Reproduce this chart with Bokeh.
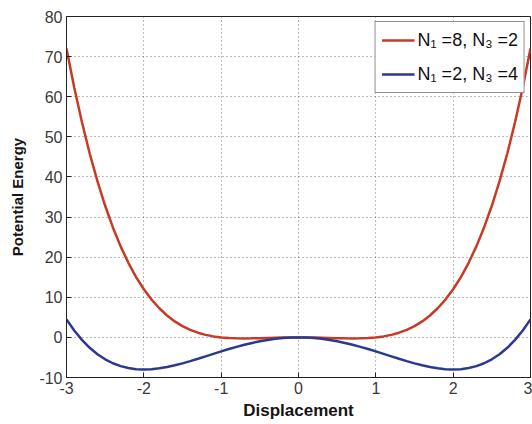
from bokeh.plotting import figure
from bokeh.models import ColumnDataSource, FixedTicker, Legend, LegendItem, Range1d
from bokeh.embed import file_html
from bokeh.resources import INLINE

x = [-3.0, -2.9, -2.8, -2.7, -2.6, -2.5, -2.4, -2.3, -2.2, -2.1, -2.0, -1.9, -1.8, -1.7, -1.6, -1.5,
     -1.4, -1.3, -1.2, -1.1, -1.0, -0.9, -0.8, -0.7, -0.6, -0.5, -0.4, -0.3, -0.2, -0.1, 0.0,
     0.1, 0.2, 0.3, 0.4, 0.5, 0.6, 0.7, 0.8, 0.9, 1.0, 1.1, 1.2, 1.3, 1.4, 1.5,
     1.6, 1.7, 1.8, 1.9, 2.0, 2.1, 2.2, 2.3, 2.4, 2.5, 2.6, 2.7, 2.8, 2.9, 3.0]

red_half = [0.0, -0.01, -0.04, -0.08, -0.13, -0.19, -0.23, -0.25, -0.23, -0.15, 0.0,
            0.25, 0.63, 1.17, 1.88, 2.81, 3.99, 5.46, 7.26, 9.42, 12.0,
            15.04, 18.59, 22.69, 27.42, 32.81, 38.94, 45.85, 53.63, 62.32, 72.0]
blue_half = [0.0, -0.04, -0.16, -0.36, -0.63, -0.97, -1.38, -1.84, -2.36, -2.91, -3.5,
             -4.11, -4.72, -5.33, -5.92, -6.47, -6.96, -7.38, -7.71, -7.92, -8.0,
             -7.92, -7.65, -7.17, -6.45, -5.47, -4.19, -2.59, -0.63, 1.72, 4.5]

red_y = red_half[::-1] + red_half[1:]
blue_y = blue_half[::-1] + blue_half[1:]

x_ticks = [-3, -2, -1, 0, 1, 2, 3]
y_ticks = [-10, 0, 10, 20, 30, 40, 50, 60, 70, 80]
label_red = "N\u2081 =8, N\u2083 =2"
label_blue = "N\u2081 =2, N\u2083 =4"

FONT = "Liberation Sans"

p = figure(width=532, height=424, output_backend="svg", toolbar_location=None,
           x_range=Range1d(-3, 3), y_range=Range1d(-10, 80),
           min_border_left=66, min_border_right=2, min_border_top=16, min_border_bottom=47)

src = ColumnDataSource(dict(x=x, r=red_y, b=blue_y))
r1 = p.line("x", "r", source=src, line_color="#c83a24", line_width=2.5)
r2 = p.line("x", "b", source=src, line_color="#2b3990", line_width=2.5)

for ax in (p.xaxis[0], p.yaxis[0]):
    ax.major_tick_in = 5
    ax.major_tick_out = 0
    ax.minor_tick_line_color = None
    ax.axis_line_color = "#222222"
    ax.major_tick_line_color = "#222222"
    ax.major_label_text_font = FONT
    ax.major_label_text_font_size = "16px"
    ax.major_label_text_color = "#3a3a3a"
    ax.axis_label_text_font = FONT
    ax.axis_label_text_font_style = "bold"
    ax.axis_label_text_color = "#151515"

p.xaxis.ticker = FixedTicker(ticks=x_ticks)
p.yaxis.ticker = FixedTicker(ticks=y_ticks)
p.xaxis.major_label_overrides = {t: str(t) for t in x_ticks}
p.yaxis.major_label_overrides = {t: str(t) for t in y_ticks}
p.xaxis.axis_label = "Displacement"
p.yaxis.axis_label = "Potential Energy"
p.xaxis.axis_label_text_font_size = "17px"
p.yaxis.axis_label_text_font_size = "15px"
p.xaxis.major_label_standoff = 4
p.yaxis.major_label_standoff = 4
p.xaxis.axis_label_standoff = 4
p.yaxis.axis_label_standoff = 10

p.outline_line_color = "#222222"
p.outline_line_alpha = 1.0

for g, t in ((p.xgrid, x_ticks), (p.ygrid, y_ticks)):
    g.ticker = FixedTicker(ticks=t)
    g.grid_line_color = "#555555"
    g.grid_line_dash = "1 3"
    g.grid_line_alpha = 0.8

legend = Legend(items=[LegendItem(label=label_red, renderers=[r1]),
                       LegendItem(label=label_blue, renderers=[r2])],
                location="top_right")
legend.border_line_color = "#222222"
legend.border_line_width = 1.5
legend.background_fill_alpha = 1.0
legend.label_text_font = FONT
legend.label_text_font_size = "18px"
legend.label_text_color = "#111111"
legend.glyph_width = 33
legend.glyph_height = 24
legend.label_height = 24
legend.spacing = 10
legend.padding = 6
legend.margin = 5
legend.label_standoff = 3
p.add_layout(legend)

open("out.html", "w").write(file_html(p, INLINE))
